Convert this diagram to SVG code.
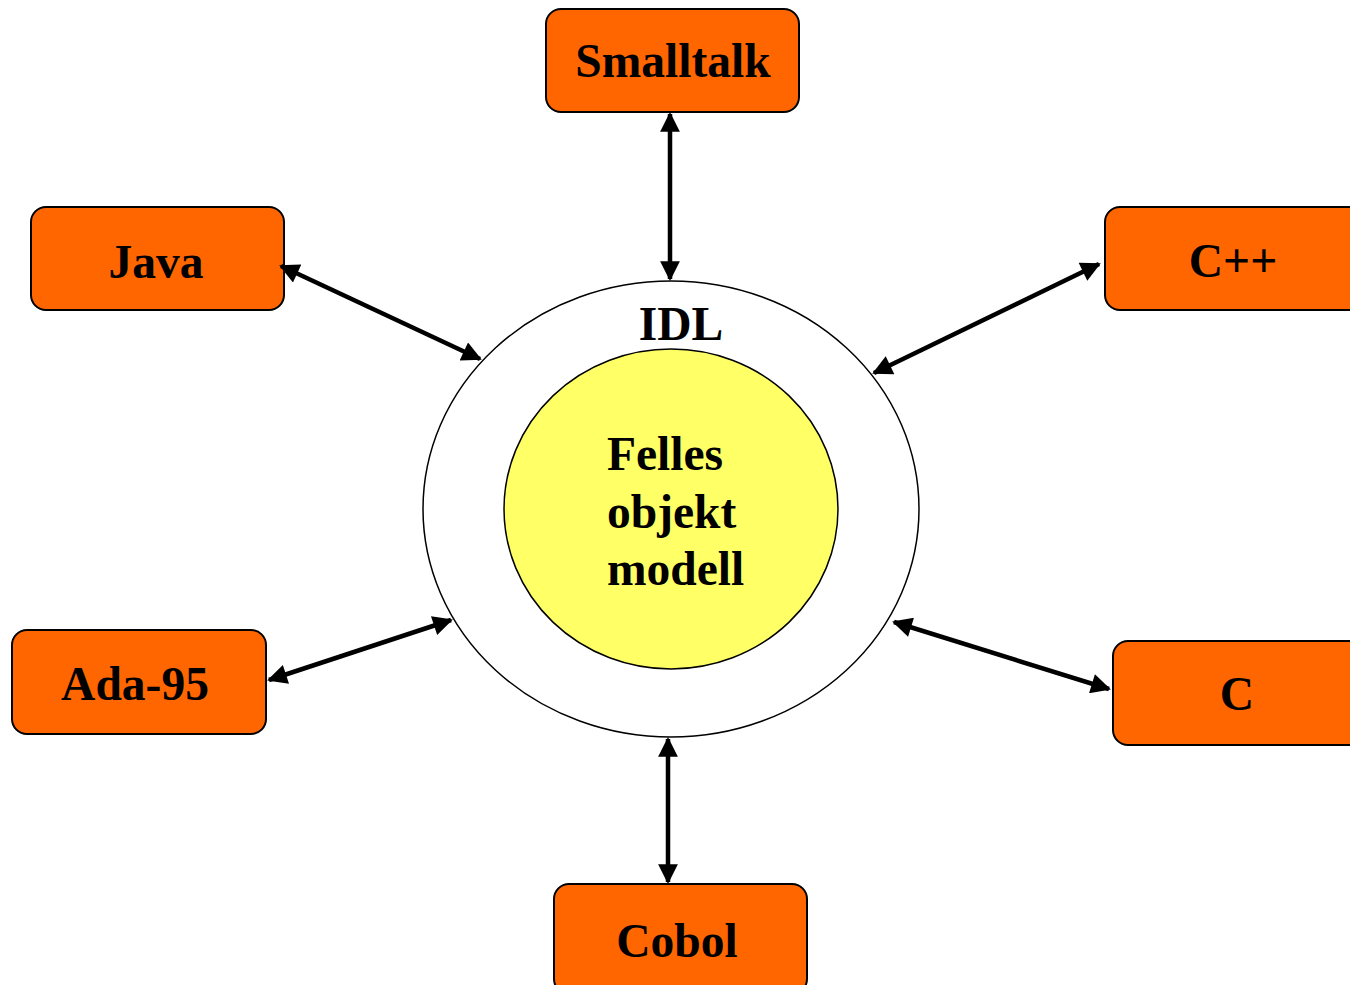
<svg xmlns="http://www.w3.org/2000/svg" width="1350" height="985" viewBox="0 0 1350 985">
<style>
.box{fill:#FF6600;stroke:#000;stroke-width:2}
.lbl{font-family:"Liberation Serif","Times New Roman",serif;font-weight:bold;font-size:47.5px;fill:#000}
.c{text-anchor:middle}
.conn{stroke:#000;stroke-width:4.5;fill:none;marker-start:url(#ah);marker-end:url(#ah)}
</style>
<defs>
<marker id="ah" viewBox="0 0 10 10" refX="9" refY="5" markerWidth="4.6" markerHeight="4.4" orient="auto-start-reverse" markerUnits="strokeWidth">
<path d="M0,0 L10,5 L0,10 z" fill="#000"/>
</marker>
</defs>
<rect width="1350" height="985" fill="#fff"/>
<g id="core">
<ellipse cx="671" cy="509" rx="248" ry="228" fill="#fff" stroke="#000" stroke-width="1.5"/>
<text class="lbl c" x="681" y="340">IDL</text>
<ellipse cx="671" cy="509" rx="167" ry="160" fill="#FFFF66" stroke="#000" stroke-width="1.5"/>
<text class="lbl" x="607" y="470">Felles</text>
<text class="lbl" x="607" y="528">objekt</text>
<text class="lbl" x="607" y="585">modell</text>
</g>
<g id="smalltalk"><rect class="box" x="546" y="9" width="253" height="103" rx="15"/><text class="lbl c" x="673" y="77">Smalltalk</text></g>
<g id="java"><rect class="box" x="31" y="207" width="253" height="103" rx="15"/><text class="lbl c" x="156" y="278">Java</text></g>
<g id="cpp"><rect class="box" x="1105" y="207" width="260" height="103" rx="15"/><text class="lbl c" x="1233" y="277">C++</text></g>
<g id="ada"><rect class="box" x="12" y="630" width="254" height="104" rx="15"/><text class="lbl c" x="135" y="700">Ada-95</text></g>
<g id="c"><rect class="box" x="1113" y="641" width="260" height="104" rx="15"/><text class="lbl c" x="1237" y="710">C</text></g>
<g id="cobol"><rect class="box" x="554" y="884" width="253" height="110" rx="15"/><text class="lbl c" x="677" y="957">Cobol</text></g>
<g id="connectors">
<line class="conn" x1="670" y1="114" x2="670" y2="279"/>
<line class="conn" x1="281" y1="266" x2="480" y2="359"/>
<line class="conn" x1="1099" y1="264" x2="874" y2="373"/>
<line class="conn" x1="269" y1="680" x2="451" y2="620"/>
<line class="conn" x1="894" y1="622" x2="1109" y2="689"/>
<line class="conn" x1="668" y1="739" x2="668" y2="882"/>
</g>
</svg>
